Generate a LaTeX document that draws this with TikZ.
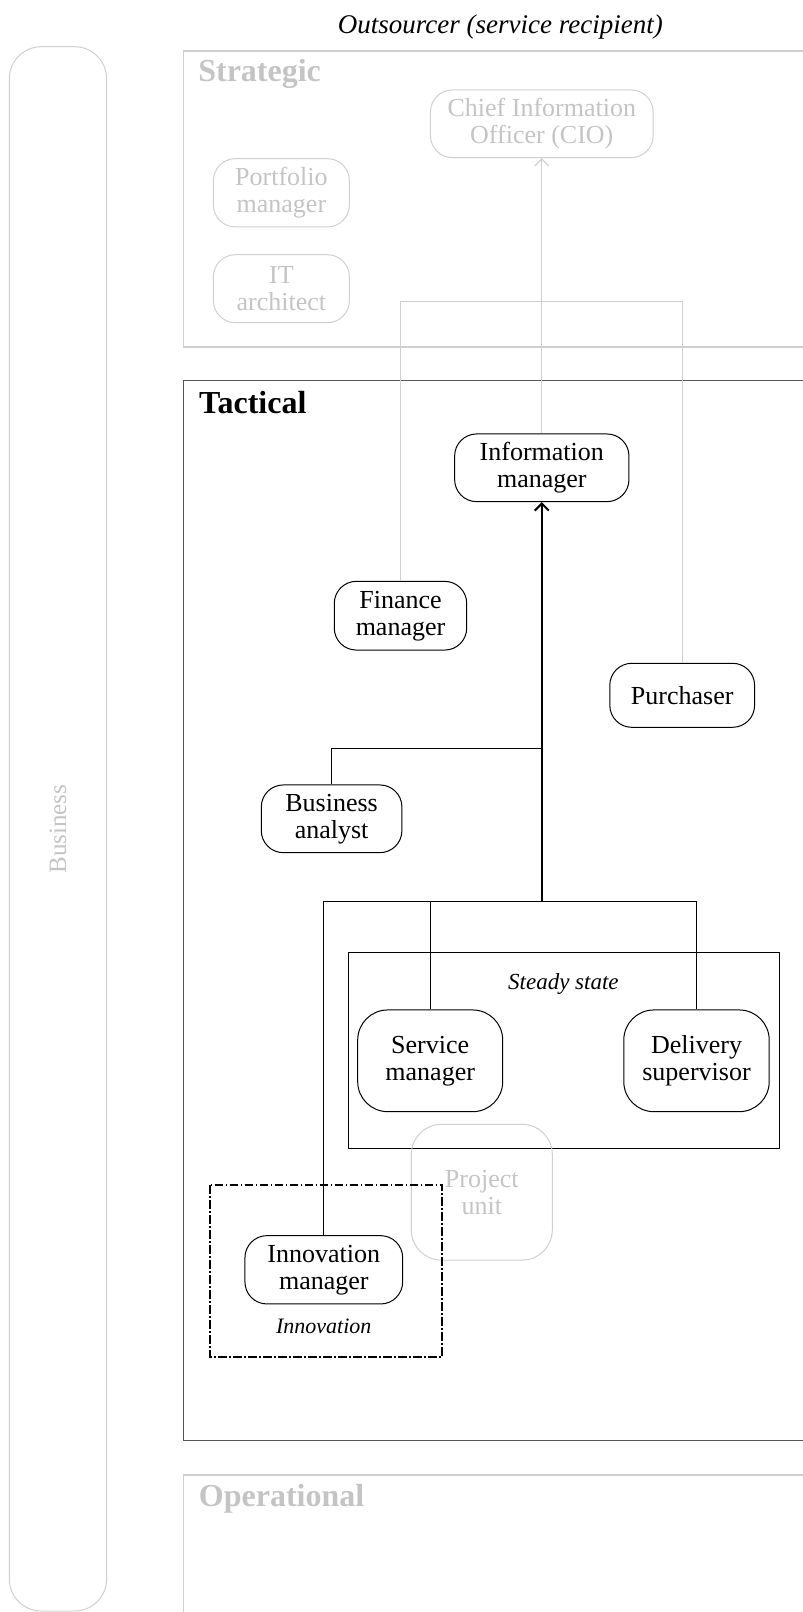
\documentclass[tikz,border=0pt]{standalone}
\usepackage{fontspec}
\setmainfont{Liberation Serif}
\usetikzlibrary{arrows.meta}
\definecolor{fadetext}{HTML}{C4C4C4}
\definecolor{fadeline}{HTML}{CFCFCF}
\definecolor{frame}{HTML}{555555}
\tikzset{
  role/.style={draw=black, line width=1pt, rounded corners=22pt, align=center,
    inner sep=0pt, font={\fontsize{26}{27}\selectfont}},
  faded/.style={role, draw=fadeline, text=fadetext},
  link/.style={draw=black, line width=1pt},
  trunk/.style={draw=black, line width=2pt},
  fadelink/.style={draw=fadeline, line width=1.2pt},
  tip/.style={-{Straight Barb[length=7pt,width=14pt]}},
  layer/.style={font={\fontsize{32}{34}\selectfont\bfseries}, inner sep=0pt, anchor=base west},
  caption/.style={font={\fontsize{23}{25}\selectfont\itshape}, inner sep=0pt, anchor=base},
}
\begin{document}
\begin{tikzpicture}[x=1pt, y=-1pt]
\useasboundingbox (0,0) rectangle (803,1612);
\clip (0,0) rectangle (803,1612);

% side band
\draw[fadeline, line width=1pt, rounded corners=32pt] (9.3,46.7) rectangle (106.6,1611);
\node[rotate=90, text=fadetext, font={\fontsize{25}{27}\selectfont}] (business) at (58,829) {Business};

% heading
\node[font={\fontsize{27}{29}\selectfont\itshape}, inner sep=0pt, anchor=base] (title) at (500.3,33.3) {Outsourcer (service recipient)};

% layers
\draw[fadeline, line width=1.3pt] (183.8,51) rectangle (830,347);
\node[layer, text=fadetext] (strategic) at (198.1,81.7) {Strategic};
\draw[frame, line width=1.3pt] (183.8,380.7) rectangle (830,1440.7);
\node[layer] (tactical) at (199,413.3) {Tactical};
\draw[fadeline, line width=1.3pt] (183.8,1475) rectangle (830,1640);
\node[layer, text=fadetext] (operational) at (198.7,1506.7) {Operational};

% strategic roles
\node[faded, minimum width=222.7pt, minimum height=67.7pt] (cio) at (541.8,123.8) {Chief Information\\Officer (CIO)};
\node[faded, minimum width=136pt, minimum height=68.3pt] (port) at (281.4,192.8) {Portfolio\\manager};
\node[faded, minimum width=136pt, minimum height=68pt] (arch) at (281.4,288.7) {IT\\architect};

% tactical roles
\node[role, minimum width=174.3pt, minimum height=67.7pt] (info) at (541.8,467.8) {Information\\manager};
\node[role, minimum width=132.4pt, minimum height=68.7pt] (fin) at (400.5,615.7) {Finance\\manager};
\node[role, minimum width=144.8pt, minimum height=64pt] (pur) at (682.2,695.3) {Purchaser};
\node[role, minimum width=140.6pt, minimum height=67.7pt] (ana) at (331.6,818.8) {Business\\analyst};

% steady state group
\draw[black, line width=1pt] (348.5,952) rectangle (779.1,1148.3);
\node[caption] (steady) at (563.4,989.3) {Steady state};
\node[role, rounded corners=30pt, minimum width=145pt, minimum height=101.7pt] (svc) at (430.2,1060.8) {Service\\manager};
\node[role, rounded corners=30pt, minimum width=145.4pt, minimum height=101.7pt] (del) at (696.5,1060.8) {Delivery\\supervisor};

% project unit
\node[faded, rounded corners=30pt, minimum width=141pt, minimum height=135.7pt] (proj) at (481.8,1192.2) {Project\\unit};

% innovation group
\draw[black, line width=1.7pt, dash pattern=on 8.5pt off 2.5pt on 1.5pt off 2.5pt] (209.8,1185) rectangle (442.2,1356.7);
\node[role, minimum width=157.7pt, minimum height=68.3pt] (inn) at (323.8,1269.8) {Innovation\\manager};
\node[caption, font={\fontsize{22}{24}\selectfont\itshape}] (innlabel) at (323.8,1333.3) {Innovation};

% reporting lines to the CIO
\coordinate (gj) at (541.8,301.7);
\draw[fadelink] (fin.north) |- (gj) -| (pur.north);
\draw[fadelink, tip] (info.north) -- (cio.south);

% reporting lines to the information manager
\coordinate (bj) at (541.8,901.7);
\coordinate (aj) at (541.8,748.3);
\draw[link] (inn.north) |- (bj) -| (del.north);
\draw[link] (svc.north) -- (svc.north |- bj);
\draw[link] (ana.north) |- (aj);
\draw[trunk, tip] (bj) -- (info.south);
\end{tikzpicture}
\end{document}
